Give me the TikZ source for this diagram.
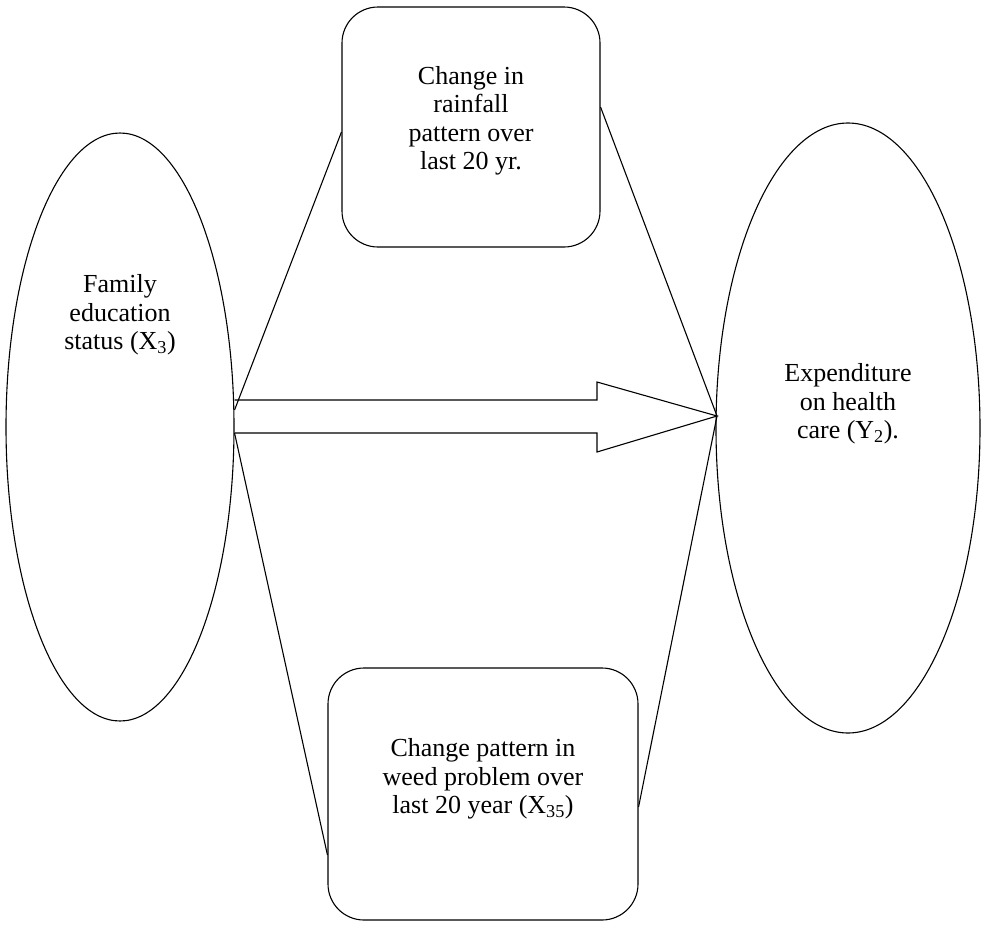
\documentclass[tikz,border=0pt]{standalone}
\usepackage{fontspec}
\setmainfont{Liberation Serif}
\usetikzlibrary{shapes.geometric}
\begin{document}
\begin{tikzpicture}[x=1pt,y=-1pt,
    oval/.style={draw, ellipse, line width=1.1pt, inner sep=0pt},
    factor/.style={draw, rectangle, rounded corners=36pt, line width=1.1pt},
    lbl/.style={align=center, font=\fontsize{26}{28.5}\selectfont},
    link/.style={line width=1.1pt},
    bigarrow/.style={draw, line width=1.1pt, line join=miter}]
  \useasboundingbox (0,0) rectangle (983,930);
  % variables
  \node[oval, minimum width=228, minimum height=588] (fam) at (120,427) {};
  \node[oval, minimum width=264, minimum height=610] (exp) at (848,428) {};
  \node[factor, minimum width=258, minimum height=240] (rain) at (471,127) {};
  \node[factor, minimum width=310, minimum height=252] (weed) at (483,794) {};
  % texts
  \node[lbl] (famtxt) at (120,315) {Family\\education\\status (X\textsubscript{3})};
  \node[lbl] (exptxt) at (848,404) {Expenditure\\on health\\care (Y\textsubscript{2}).};
  \node[lbl] (raintxt) at (471,121) {Change in\\rainfall\\pattern over\\last 20 yr.};
  \node[lbl] (weedtxt) at (483,779) {Change pattern in\\weed problem over\\last 20 year (X\textsubscript{35})};
  % links
  \coordinate (tip) at (717,416);
  \draw[link] ([yshift=17pt]fam.east) -- ([yshift=-5pt]rain.west);
  \draw[link] ([yshift=20pt]rain.east) -- (tip);
  \draw[link] ([yshift=-6pt]fam.east) -- ([yshift=-61pt]weed.west);
  \draw[link] ([yshift=-13pt]weed.east) -- (tip);
  \draw[bigarrow] (fam.east |- 0,400) -- (597,400) -- (597,382) -- (tip)
    -- (597,452) -- (597,433) -- (fam.east |- 0,433);
\end{tikzpicture}
\end{document}
